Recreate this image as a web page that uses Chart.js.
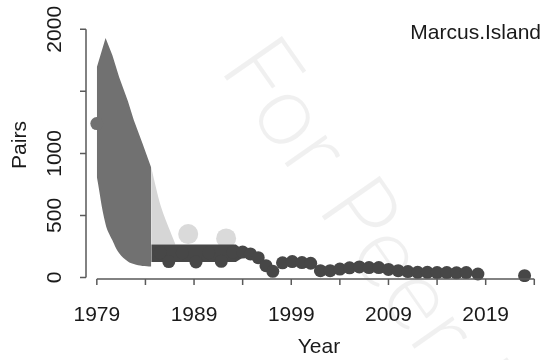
<!DOCTYPE html>
<html lang="en">
<head>
    <meta charset="UTF-8">
    <title>Marcus.Island pairs</title>
    <style>
        body {
            margin: 0;
            background-color: #ffffff;
        }
        #wrap {
            width: 551px;
            height: 360px;
        }
    </style>
    <script src="https://cdn.jsdelivr.net/npm/chart.js@4/dist/chart.umd.min.js"></script>
</head>
<body>
    <div id="wrap"><canvas id="myChart" width="551" height="360"></canvas></div>
    <script>
        // observed counts (dots)
        const countYears = [1979, 1985.5, 1986.4, 1987.8, 1989.2, 1990.5, 1991.8, 1993.0, 1994.0, 1994.8, 1995.6, 1996.4, 1997.1, 1998.1, 1999.1, 2000.1, 2001.0, 2002.0, 2003.0, 2004.0, 2005.0, 2006.0, 2007.0, 2008.0, 2009.0, 2010.0, 2011.0, 2012.0, 2013.0, 2014.0, 2015.0, 2016.0, 2017.0, 2018.2, 2023.0];
        const countPairs = [1240, 200, 128, 200, 125, 200, 130, 205, 205, 190, 160, 95, 50, 118, 128, 120, 115, 55, 55, 68, 78, 85, 80, 80, 65, 55, 48, 42, 42, 40, 40, 38, 40, 28, 15];

        // early estimate band
        const bigYears = [1979, 1979.9, 1980.6, 1981.3, 1982.2, 1982.8, 1983.7, 1984.6];
        const bigUpper = [1695, 1930, 1790, 1614, 1420, 1269, 1080, 884];
        const bigLower = [811, 430, 300, 195, 128, 108, 92, 88];

        // later estimate band
        const darkYears = [1984.6, 1986, 1988, 1990, 1992, 1993.3, 1994.2];
        const darkUpper = [265, 265, 265, 265, 265, 265, 215];
        const darkLower = [125, 125, 125, 125, 125, 125, 170];

        // faint band and faint dots
        const lightYears = [1984.6, 1985.6, 1986.6, 1987.1];
        const lightUpper = [884, 570, 362, 265];
        const lightLower = [265, 265, 265, 265];
        const faintYears = [1988.4, 1992.3];
        const faintPairs = [350, 315];

        const xTicks = [1979, 1984, 1989, 1994, 1999, 2004, 2009, 2014, 2019, 2024];
        const xLabels = ['1979', '', '1989', '', '1999', '', '2009', '', '2019', ''];
        const yTicks = [0, 500, 1000, 1500, 2000];
        const yLabels = ['0', '500', '1000', '', '2000'];

        const dotGrey = '#474747';
        const bandGrey = '#717171';
        const darkGrey = '#474747';
        const lightGrey = '#d6d6d6';
        const txt = '#1a1a1a';
        const font = '"Liberation Sans", Arial, sans-serif';

        const pts = (xs, ys) => xs.map((x, i) => ({ x: x, y: ys[i] }));

        const bandLine = (data, fill, color, tension) => ({
            data: data,
            showLine: true,
            borderColor: 'transparent',
            borderWidth: 0,
            backgroundColor: color,
            pointRadius: 0,
            tension: tension,
            fill: fill
        });

        const axesPlugin = {
            id: 'rAxes',
            beforeDatasetsDraw(chart) {
                const ctx = chart.ctx;
                // faint watermark
                ctx.save();
                ctx.translate(218, 68);
                ctx.rotate(55 * Math.PI / 180);
                ctx.font = '300 100px Lato, ' + font;
                ctx.fillStyle = 'rgba(0,0,0,0.06)';
                ctx.fillText('For Peer Review', 0, 0);
                ctx.restore();
            },
            afterDraw(chart) {
                const ctx = chart.ctx;
                const xs = chart.scales.x;
                const ys = chart.scales.y;
                ctx.save();
                ctx.strokeStyle = '#5a5a5a';
                ctx.lineWidth = 1.5;
                ctx.fillStyle = txt;
                ctx.font = '21px ' + font;

                // y axis
                const ax = 86;
                ctx.beginPath();
                ctx.moveTo(ax, ys.getPixelForValue(yTicks[0]));
                ctx.lineTo(ax, ys.getPixelForValue(yTicks[yTicks.length - 1]));
                yTicks.forEach(v => {
                    const py = ys.getPixelForValue(v);
                    ctx.moveTo(ax, py);
                    ctx.lineTo(ax - 6, py);
                });
                ctx.stroke();
                yTicks.forEach((v, i) => {
                    const py = ys.getPixelForValue(v);
                    ctx.save();
                    ctx.translate(55, py);
                    ctx.rotate(-Math.PI / 2);
                    ctx.textAlign = 'center';
                    ctx.textBaseline = 'middle';
                    ctx.fillText(yLabels[i], 0, 0);
                    ctx.restore();
                });

                // x axis
                const ay = 279;
                ctx.beginPath();
                ctx.moveTo(xs.getPixelForValue(xTicks[0]), ay);
                ctx.lineTo(xs.getPixelForValue(xTicks[xTicks.length - 1]), ay);
                xTicks.forEach(v => {
                    const px = xs.getPixelForValue(v);
                    ctx.moveTo(px, ay);
                    ctx.lineTo(px, ay + 6);
                });
                ctx.stroke();
                ctx.textAlign = 'center';
                ctx.textBaseline = 'middle';
                xTicks.forEach((v, i) => {
                    ctx.fillText(xLabels[i], xs.getPixelForValue(v), 315);
                });

                // titles
                ctx.fillText('Year', 319, 347);
                ctx.save();
                ctx.translate(20, 145);
                ctx.rotate(-Math.PI / 2);
                ctx.fillText('Pairs', 0, 0);
                ctx.restore();

                ctx.textAlign = 'right';
                ctx.textBaseline = 'alphabetic';
                ctx.fillText('Marcus.Island', 541, 39);
                ctx.restore();
            }
        };

        new Chart(document.getElementById('myChart'), {
            type: 'line',
            data: {
                datasets: [
                    {
                        data: pts(countYears, countPairs),
                        showLine: false,
                        pointRadius: 6.5,
                        pointBorderWidth: 0,
                        pointBackgroundColor: c => (c.raw && c.raw.y > 1000) ? bandGrey : dotGrey,
                        pointBorderColor: 'transparent'
                    },
                    bandLine(pts(darkYears, darkUpper), 2, darkGrey, 0),
                    bandLine(pts(darkYears, darkLower), false, darkGrey, 0),
                    bandLine(pts(bigYears, bigUpper), 4, bandGrey, 0),
                    bandLine(pts(bigYears, bigLower), false, bandGrey, 0.4),
                    bandLine(pts(lightYears, lightUpper), 6, lightGrey, 0.3),
                    bandLine(pts(lightYears, lightLower), false, lightGrey, 0),
                    {
                        data: pts(faintYears, faintPairs),
                        showLine: false,
                        pointRadius: 10,
                        pointBorderWidth: 0,
                        pointBackgroundColor: '#dadada',
                        pointBorderColor: 'transparent'
                    }
                ]
            },
            options: {
                responsive: false,
                animation: false,
                layout: {
                    padding: { left: 86, right: 3, top: 20, bottom: 78 }
                },
                plugins: {
                    legend: { display: false },
                    tooltip: { enabled: false }
                },
                scales: {
                    x: { type: 'linear', min: 1977.886, max: 2024.69, display: false },
                    y: { type: 'linear', min: -36.3, max: 2074.9, display: false }
                }
            },
            plugins: [axesPlugin]
        });
    </script>
</body>
</html>
